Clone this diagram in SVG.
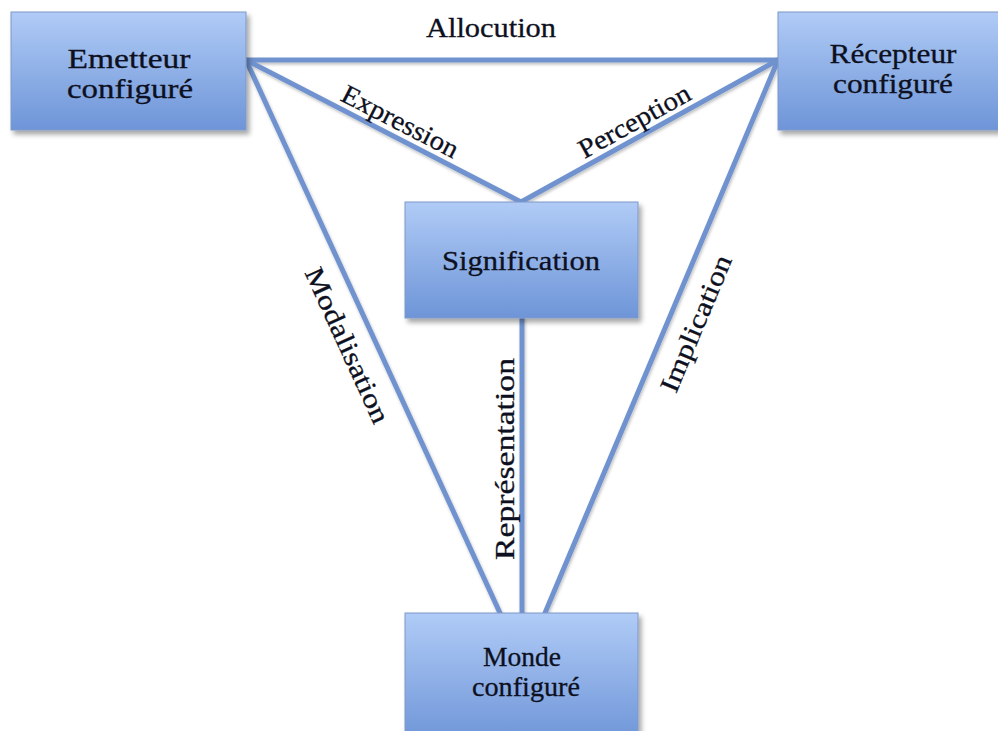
<svg xmlns="http://www.w3.org/2000/svg" width="998" height="731" viewBox="0 0 998 731">
<defs>
<linearGradient id="g" x1="0" y1="0" x2="0" y2="1">
<stop offset="0" stop-color="#b0cbf6"/>
<stop offset="1" stop-color="#6e95d8"/>
</linearGradient>
<filter id="bs" x="-10%" y="-10%" width="130%" height="130%">
<feDropShadow dx="3" dy="4" stdDeviation="2.5" flood-color="#000" flood-opacity="0.35"/>
</filter>
<filter id="ls" x="-10%" y="-10%" width="130%" height="130%">
<feDropShadow dx="1" dy="2" stdDeviation="1.5" flood-color="#000" flood-opacity="0.25"/>
</filter>
</defs>
<style>
.box{fill:url(#g);stroke:#7f98c8;stroke-width:1;filter:url(#bs)}
.t,.lb{font-family:"Liberation Serif",Tinos,"Times New Roman",Times,serif;fill:#0d1020;stroke:#0d1020;stroke-width:0.3;text-anchor:middle;font-size:27px}
.c{stroke:#7093cf;stroke-width:5;fill:none;stroke-linecap:round}
</style>
<rect width="998" height="731" fill="#ffffff"/>
<g id="connectors" filter="url(#ls)">
<line class="c" x1="246" y1="60" x2="778" y2="60"/>
<line class="c" x1="246" y1="60" x2="521" y2="202"/>
<line class="c" x1="778" y1="60" x2="521" y2="202"/>
<line class="c" x1="246" y1="60" x2="500" y2="613"/>
<line class="c" x1="522" y1="318" x2="522" y2="613"/>
<line class="c" x1="778" y1="60" x2="545" y2="613"/>
</g>
<g id="labels">
<text class="lb" font-family="Liberation Serif" x="491" y="37" textLength="130" lengthAdjust="spacingAndGlyphs">Allocution</text>
<text class="lb" font-family="Liberation Serif" transform="translate(393,135.6) rotate(27.3)" x="0" y="-7" textLength="128" lengthAdjust="spacingAndGlyphs">Expression</text>
<text class="lb" font-family="Liberation Serif" transform="translate(642,135) rotate(-29)" x="0" y="-7" textLength="124" lengthAdjust="spacingAndGlyphs">Perception</text>
<text class="lb" font-family="Liberation Serif" transform="translate(372,334) rotate(65.4)" x="0" y="36" textLength="168" lengthAdjust="spacingAndGlyphs">Modalisation</text>
<text class="lb" font-family="Liberation Serif" transform="translate(514,459) rotate(-90)" x="0" y="0" textLength="202" lengthAdjust="spacingAndGlyphs">Représentation</text>
<text class="lb" font-family="Liberation Serif" transform="translate(671,313) rotate(-67.2)" x="0" y="36" textLength="146" lengthAdjust="spacingAndGlyphs">Implication</text>
</g>
<g id="emetteur">
<rect class="box" x="11" y="12" width="235" height="118"/>
<text class="t" font-family="Liberation Serif" x="129" y="68" textLength="123" lengthAdjust="spacingAndGlyphs">Emetteur</text>
<text class="t" font-family="Liberation Serif" x="130" y="98" textLength="126" lengthAdjust="spacingAndGlyphs">configuré</text>
</g>
<g id="recepteur">
<rect class="box" x="778" y="12" width="233" height="118"/>
<text class="t" font-family="Liberation Serif" x="893" y="63" textLength="127" lengthAdjust="spacingAndGlyphs">Récepteur</text>
<text class="t" font-family="Liberation Serif" x="893" y="93" textLength="120" lengthAdjust="spacingAndGlyphs">configuré</text>
</g>
<g id="signification">
<rect class="box" x="405" y="202" width="233" height="116"/>
<text class="t" font-family="Liberation Serif" x="521" y="270" textLength="158" lengthAdjust="spacingAndGlyphs">Signification</text>
</g>
<g id="monde">
<rect class="box" x="405" y="613" width="233" height="130"/>
<text class="t" font-family="Liberation Serif" x="522" y="666" textLength="78" lengthAdjust="spacingAndGlyphs">Monde</text>
<text class="t" font-family="Liberation Serif" x="526" y="696" textLength="108" lengthAdjust="spacingAndGlyphs">configuré</text>
</g>
</svg>
